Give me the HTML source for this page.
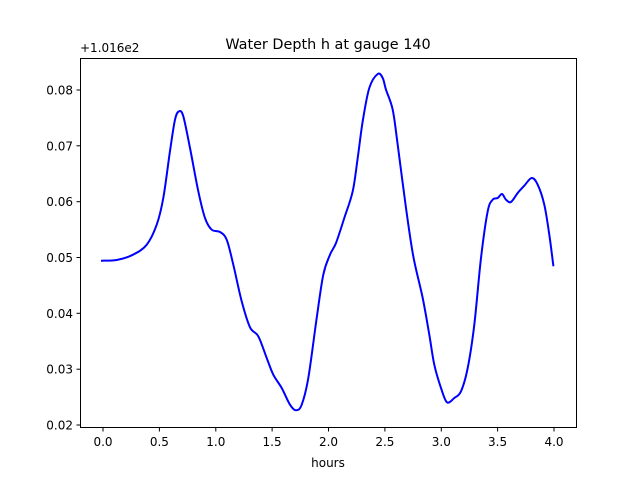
<!DOCTYPE html>
<html><head><style>body{margin:0;background:#fff}svg{display:block}text{font-family:"DejaVu Sans","Liberation Sans",sans-serif;fill:#000}</style></head>
<body>
<svg width="640" height="480" viewBox="0 0 640 480">
<rect width="640" height="480" fill="#fff"/>
<text x="328" y="49" font-size="14.4" text-anchor="middle">Water Depth h at gauge 140</text>
<text x="80" y="52" font-size="12">+1.016e2</text>
<path id="curve" fill="none" stroke="#0000ff" stroke-width="2" stroke-linejoin="round" stroke-linecap="square" d=""/>
<rect x="80.5" y="58.5" width="496" height="369" fill="none" stroke="#000" stroke-width="1"/>
<g stroke="#000" stroke-width="1">
<line x1="103" y1="428" x2="103" y2="431.5"/><line x1="159.4" y1="428" x2="159.4" y2="431.5"/><line x1="215.8" y1="428" x2="215.8" y2="431.5"/><line x1="272.1" y1="428" x2="272.1" y2="431.5"/><line x1="328.5" y1="428" x2="328.5" y2="431.5"/><line x1="384.9" y1="428" x2="384.9" y2="431.5"/><line x1="441.3" y1="428" x2="441.3" y2="431.5"/><line x1="497.6" y1="428" x2="497.6" y2="431.5"/><line x1="554" y1="428" x2="554" y2="431.5"/>
<line x1="76.5" y1="425" x2="80" y2="425"/><line x1="76.5" y1="369.2" x2="80" y2="369.2"/><line x1="76.5" y1="313.3" x2="80" y2="313.3"/><line x1="76.5" y1="257.5" x2="80" y2="257.5"/><line x1="76.5" y1="201.7" x2="80" y2="201.7"/><line x1="76.5" y1="145.8" x2="80" y2="145.8"/><line x1="76.5" y1="90" x2="80" y2="90"/>
</g>
<g font-size="12" text-anchor="middle">
<text x="103" y="446">0.0</text><text x="159.4" y="446">0.5</text><text x="215.8" y="446">1.0</text><text x="272.1" y="446">1.5</text><text x="328.5" y="446">2.0</text><text x="384.9" y="446">2.5</text><text x="441.3" y="446">3.0</text><text x="497.6" y="446">3.5</text><text x="554" y="446">4.0</text>
<text x="328" y="467">hours</text>
</g>
<g font-size="12" text-anchor="end">
<text x="73" y="429.5">0.02</text><text x="73" y="373.7">0.03</text><text x="73" y="317.8">0.04</text><text x="73" y="262">0.05</text><text x="73" y="206.2">0.06</text><text x="73" y="150.3">0.07</text><text x="73" y="94.5">0.08</text>
</g>
</svg>
<script>
var p=[[102,260.7],[116.7,260],[133,254.7],[146.7,244.7],[156.7,224.7],[163.3,198],[170,151],[175,119.7],[179,111.3],[183.3,116.3],[190,148],[198.3,191.3],[205,218],[211.7,229.7],[220,232],[226.7,239.7],[233.3,264.7],[241.7,301.3],[250,327.3],[258.3,336.3],[266.7,358],[273.3,374.7],[281.7,388],[290,404.7],[296,410.3],[301.7,404.7],[308.3,378],[316.7,318],[323.3,274.7],[330,254.7],[336,243],[344.3,218],[352.7,191.3],[357.7,158],[362.7,121.3],[369.3,88],[377.7,74],[382.7,78],[386,89.7],[392.7,109.7],[397.7,144.7],[406,208],[413.3,256.3],[422.7,298],[429.3,334.7],[434.3,364.7],[441,388],[447,402.3],[454.3,398],[461,391.3],[467.7,368],[474.3,324.7],[481,258],[487.7,211.3],[492.7,199.7],[497.7,198],[502,194],[506,199.7],[511,202],[517.7,193],[524.3,185.7],[531.7,178],[537.7,184.7],[544.3,204.7],[549.3,234.7],[553.3,265.3]];
var d="M"+p[0][0]+","+p[0][1];
for(var i=0;i<p.length-1;i++){var a=p[Math.max(i-1,0)],b=p[i],c=p[i+1],e=p[Math.min(i+2,p.length-1)];
d+=" C"+(b[0]+(c[0]-a[0])/6).toFixed(2)+","+(b[1]+(c[1]-a[1])/6).toFixed(2)+" "+(c[0]-(e[0]-b[0])/6).toFixed(2)+","+(c[1]-(e[1]-b[1])/6).toFixed(2)+" "+c[0]+","+c[1];}
document.getElementById("curve").setAttribute("d",d);
</script>
</body></html>
